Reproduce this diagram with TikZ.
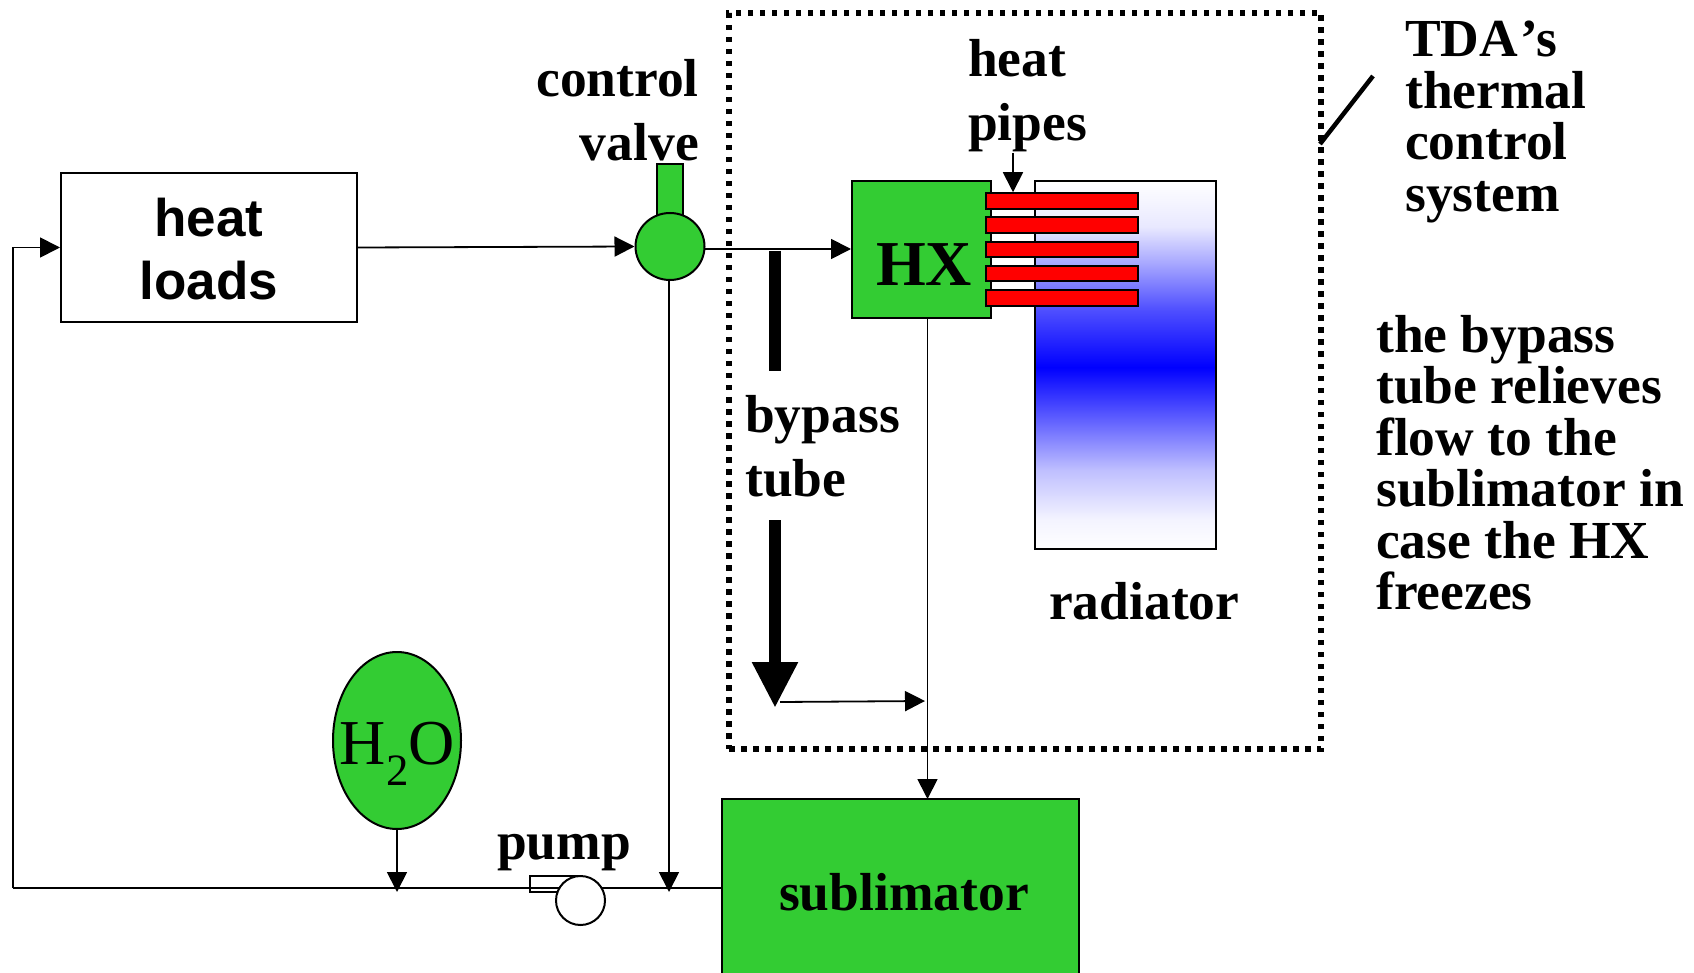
\documentclass[tikz,border=0pt]{standalone}
\usepackage{fontspec}
\setmainfont{Liberation Serif}
\newfontfamily\arialfont{Liberation Sans}
\usetikzlibrary{arrows.meta,calc,shapes.geometric}
\definecolor{pgreen}{RGB}{51,204,51}
\pgfdeclareverticalshading{radgrad}{100bp}{rgb(0bp)=(1,1,1); rgb(25bp)=(1,1,1); rgb(29bp)=(.955,.955,1); rgb(35.7bp)=(.75,.75,1); rgb(42.5bp)=(.38,.38,1); rgb(49.7bp)=(0,0,1); rgb(57.5bp)=(.31,.31,1); rgb(63.9bp)=(.66,.66,1); rgb(68.75bp)=(.91,.91,1); rgb(75bp)=(1,1,1); rgb(100bp)=(1,1,1)}
\tikzset{
  flow/.style={line width=1.8pt,-{Triangle[length=20pt,width=20pt]}},
  plain/.style={line width=1.8pt},
  fat/.style={line width=12pt},
  greenbox/.style={draw=black,fill=pgreen,line width=2pt,inner sep=0pt,text=black},
  pipebar/.style={draw=black,fill=red,line width=2pt,minimum width=152pt,minimum height=15.5pt,inner sep=0pt},
  lab/.style={inner sep=0pt,align=left,anchor=north west,font=\bfseries\fontsize{53.5}{64}\selectfont},
  note/.style={inner sep=0pt,align=left,anchor=north west,font=\bfseries\fontsize{53.5}{51.5}\selectfont},
}
\begin{document}
\begin{tikzpicture}[x=1pt,y=-1pt]
\clip (0,0) rectangle (1694,973);
\fill[white] (0,0) rectangle (1694,973);
% TDA boundary
\node[draw=black,line width=6.5pt,dash pattern=on 5.5pt off 6.5pt,minimum width=592pt,minimum height=736pt,inner sep=0pt] (tda) at (1025,381) {};
\coordinate (slashA) at (1320,144);
\coordinate (slashB) at (1373,76);
\draw[line width=4.5pt] (slashA) -- (slashB);
% radiator
\node[draw=black,line width=2pt,minimum width=181pt,minimum height=368pt,inner sep=0pt,shade,shading=radgrad] (rad) at (1125,365) {};
% HX
\node[greenbox,minimum width=139pt,minimum height=137pt] (hx) at (921.5,249.5) {};
\node[inner sep=0pt,font=\bfseries\fontsize{64}{64}\selectfont] (hxlab) at (924,265) {HX};
% pipes
\node[pipebar] (p1) at (1062,201) {};
\node[pipebar] (p2) at (1062,225) {};
\node[pipebar] (p3) at (1062,249.5) {};
\node[pipebar] (p4) at (1062,273.5) {};
\node[pipebar] (p5) at (1062,298) {};
% heat loads
\node[draw=black,line width=2pt,fill=white,minimum width=296pt,minimum height=149pt,inner sep=0pt] (loads) at (209,247.5) {};
\node[inner sep=0pt,align=center,font=\arialfont\bfseries\fontsize{53}{63}\selectfont] (loadslab) at (209,249.5) {heat\\loads};
% valve
\node[draw=black,fill=pgreen,line width=2pt,minimum width=26.5pt,minimum height=60pt,inner sep=0pt] (stem) at (670,194) {};
\node[draw=black,fill=pgreen,line width=2pt,ellipse,minimum width=69pt,minimum height=67pt,inner sep=0pt] (valve) at (670,246.5) {};
% sublimator
\node[greenbox,minimum width=357pt,minimum height=186pt] (sub) at (900,892) {};
\node[inner sep=0pt,font=\bfseries\fontsize{53.5}{53.5}\selectfont] (sublab) at (904,892) {sublimator};
% H2O
\node[draw=black,fill=pgreen,line width=2pt,ellipse,minimum width=128pt,minimum height=177pt,inner sep=0pt] (water) at (397,740.5) {};
\node[inner sep=0pt,font=\fontsize{64}{64}\selectfont] (waterlab) at (397.5,754) {H$_{\mathrm{2}}$O};
% pump
\node[draw=black,line width=2pt,fill=white,minimum width=50pt,minimum height=16pt,inner sep=0pt] (pumpbody) at (555,884) {};
\coordinate (lineLeft) at (13,888);
\coordinate (waterTip) at (397,892);
\coordinate (valveTip) at (669,892);
\coordinate (valveOut) at (705,249);
\coordinate (subEntry) at (927.5,799);
\coordinate (bypassTop) at (775,251);
\coordinate (bypassBreak) at (775,371);
\coordinate (bypassRe) at (775,520);
\coordinate (bypassTip) at (775,708);
\coordinate (smallStart) at (780,702);
\coordinate (smallTip) at (925,701);
\coordinate (pipeArrowStart) at (1013,153);
% lines
\draw[plain] (lineLeft) -- (sub.west |- lineLeft);
\draw[flow] (lineLeft) |- (loads.west);
\node[draw=black,line width=2pt,fill=white,ellipse,minimum width=49pt,minimum height=49pt,inner sep=0pt] (pump) at (580.5,900.5) {};
\draw[flow] (loads.east) -- (valve.west);
\draw[flow] (valveOut) -- (hx.west |- valveOut);
\draw[flow] (valve.south -| valveTip) -- (valveTip);
\draw[flow] (hx.south -| subEntry) -- (subEntry);
\draw[flow] (water.south) -- (waterTip);
\draw[fat] (bypassTop) -- (bypassBreak);
\draw[fat,-{Triangle[length=46pt,width=43pt]}] (bypassRe) -- (bypassTip);
\draw[flow] (smallStart) -- (smallTip);
\draw[flow] (pipeArrowStart) -- (p1.north -| pipeArrowStart);
% labels
\node[lab,align=right,anchor=north east] (cv) at (699,59) {control\\valve};
\node[lab] (hp) at (968,39) {heat\\pipes};
\node[lab] (bt) at (745,395.5) {bypass\\tube};
\node[lab] (rl) at (1049,582) {radiator};
\node[lab] (pl) at (497,834) {pump};
\node[note] (tdal) at (1405,21) {TDA\kern2.5pt’s\\thermal\\control\\system};
\node[note] (bypl) at (1376,315) {the bypass\\tube relieves\\flow to the\\sublimator in\\case the HX\\freezes};
\end{tikzpicture}
\end{document}
